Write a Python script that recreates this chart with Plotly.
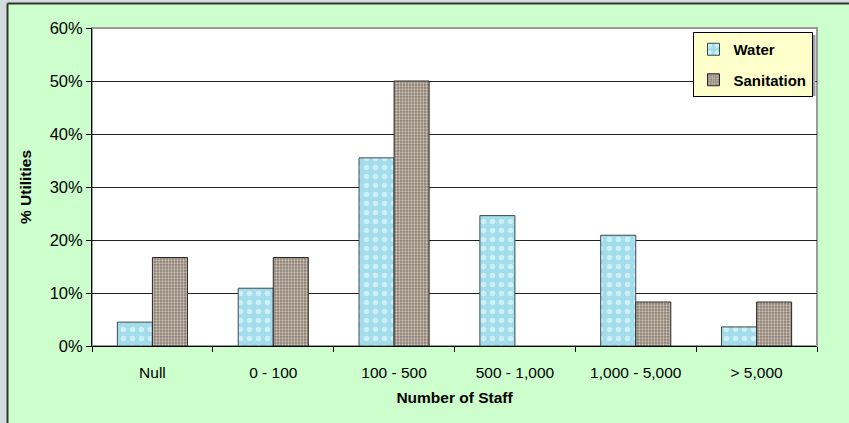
import plotly.graph_objects as go

categories = ["Null", "0 - 100", "100 - 500", "500 - 1,000", "1,000 - 5,000", "> 5,000"]
water = [4.5, 10.9, 35.5, 24.6, 20.9, 3.6]
sanitation = [16.7, 16.7, 50.0, 0.0, 8.3, 8.3]
y_ticks = [0, 10, 20, 30, 40, 50, 60]
y_tick_labels = [f"{v}%" for v in y_ticks]

FONT = "Arial, Liberation Sans, sans-serif"

def outline_widths(values):
    # no outline for empty bars
    return [0 if v == 0 else 1 for v in values]

fig = go.Figure()
fig.add_trace(go.Bar(
    name="Water", x=categories, y=water, legendgroup="w",
    marker=dict(
        color="#a9e2ef",
        line=dict(color="#3a4a50", width=outline_widths(water)),
        pattern=dict(shape=".", size=9, solidity=0.3,
                     fgcolor="#cdeff7", bgcolor="#a3ddeb", fillmode="replace"),
    ),
))
fig.add_trace(go.Bar(
    name="Sanitation", x=categories, y=sanitation, legendgroup="s",
    marker=dict(
        color="#a09284",
        line=dict(color="#2a2a2a", width=outline_widths(sanitation)),
        pattern=dict(shape=".", size=3, solidity=0.45,
                     fgcolor="#cfc3b7", bgcolor="#8a7d71", fillmode="replace"),
    ),
))

# plot area spans x 92..817, y 28..346 in a 849x423 page
L, R, T, B = 92, 32, 28, 77
W, H = 849 - L - R, 423 - T - B
def px(x):
    return (x - L) / W
def py(y):
    return (423 - B - y) / H

shapes = [
    # green chart panel with dark left/top edge
    dict(type="rect", xref="paper", yref="paper", layer="below",
         x0=px(8), x1=px(860), y0=py(430), y1=py(4),
         fillcolor="#ccffcc", line=dict(width=0)),
    dict(type="line", xref="paper", yref="paper", layer="below",
         x0=px(7.5), x1=px(7.5), y0=py(430), y1=py(3.5),
         line=dict(color="#333333", width=2)),
    dict(type="line", xref="paper", yref="paper", layer="below",
         x0=px(7.5), x1=px(860), y0=py(3.5), y1=py(3.5),
         line=dict(color="#333333", width=2)),
    # white plot area with grey frame
    dict(type="rect", xref="paper", yref="paper", layer="below",
         x0=0, x1=1, y0=0, y1=1, fillcolor="white",
         line=dict(color="#9a9a9a", width=2)),
    # legend shadow
    dict(type="rect", xref="paper", yref="paper", layer="above",
         x0=px(695), x1=px(815.5), y0=py(96), y1=py(35),
         fillcolor="#a0a0a0", line=dict(width=0)),
]

fig.update_layout(
    width=849, height=423,
    margin=dict(l=L, r=R, t=T, b=B),
    paper_bgcolor="#d2dcdc",
    plot_bgcolor="rgba(0,0,0,0)",
    barmode="group",
    bargap=0.42,
    bargroupgap=0,
    font=dict(family=FONT, size=15, color="#000000"),
    shapes=shapes,
    showlegend=True,
    legend=dict(
        x=px(692.5), y=py(32), xanchor="left", yanchor="top",
        bgcolor="#ffffcc", bordercolor="#000000", borderwidth=1,
        font=dict(family=FONT, size=15, color="#000000", weight="bold"),
        tracegroupgap=8, itemwidth=30,
    ),
    xaxis=dict(
        title=dict(text="<b>Number of Staff</b>", font=dict(size=15.5), standoff=12),
        showline=True, linecolor="#000000", linewidth=1,
        ticks="outside", ticklen=5, tickcolor="#000000",
        tickson="boundaries", showgrid=False,
        tickfont=dict(size=15.5), ticklabelstandoff=12,
    ),
    yaxis=dict(
        title=dict(text="<b>% Utilities</b>", font=dict(size=15.5), standoff=14),
        range=[0, 60], tickvals=y_ticks, ticktext=y_tick_labels,
        showline=True, linecolor="#000000", linewidth=1,
        ticks="outside", ticklen=5, tickcolor="#000000",
        showgrid=True, gridcolor="#222222", gridwidth=1,
        zeroline=False, tickfont=dict(size=16.5),
    ),
)

fig.write_html("out.html")
